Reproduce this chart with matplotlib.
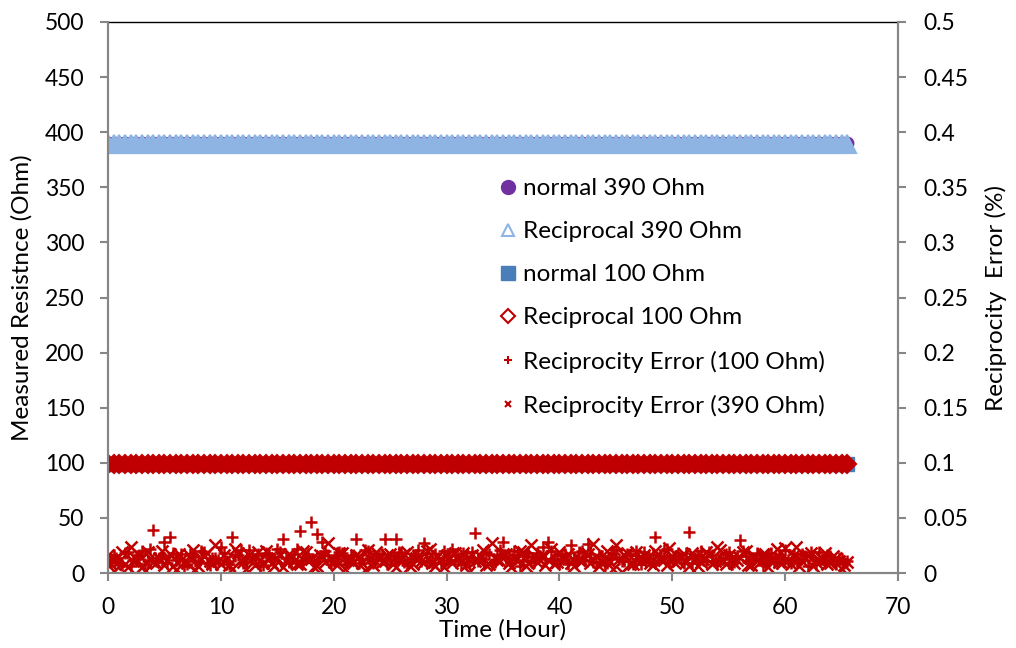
import matplotlib
matplotlib.use("Agg")
import matplotlib.pyplot as plt
from matplotlib.lines import Line2D

plt.rcParams['font.family'] = ['Lato', 'DejaVu Sans']

# ---------------- data ----------------
time_h = [0.0, 0.5, 1.0, 1.5, 2.0, 2.5, 3.0, 3.5, 4.0, 4.5,
          5.0, 5.5, 6.0, 6.5, 7.0, 7.5, 8.0, 8.5, 9.0, 9.5,
          10.0, 10.5, 11.0, 11.5, 12.0, 12.5, 13.0, 13.5, 14.0, 14.5,
          15.0, 15.5, 16.0, 16.5, 17.0, 17.5, 18.0, 18.5, 19.0, 19.5,
          20.0, 20.5, 21.0, 21.5, 22.0, 22.5, 23.0, 23.5, 24.0, 24.5,
          25.0, 25.5, 26.0, 26.5, 27.0, 27.5, 28.0, 28.5, 29.0, 29.5,
          30.0, 30.5, 31.0, 31.5, 32.0, 32.5, 33.0, 33.5, 34.0, 34.5,
          35.0, 35.5, 36.0, 36.5, 37.0, 37.5, 38.0, 38.5, 39.0, 39.5,
          40.0, 40.5, 41.0, 41.5, 42.0, 42.5, 43.0, 43.5, 44.0, 44.5,
          45.0, 45.5, 46.0, 46.5, 47.0, 47.5, 48.0, 48.5, 49.0, 49.5,
          50.0, 50.5, 51.0, 51.5, 52.0, 52.5, 53.0, 53.5, 54.0, 54.5,
          55.0, 55.5, 56.0, 56.5, 57.0, 57.5, 58.0, 58.5, 59.0, 59.5,
          60.0, 60.5, 61.0, 61.5, 62.0, 62.5, 63.0, 63.5, 64.0, 64.5,
          65.0, 65.5]

time_mid = [0.25, 0.75, 1.25, 1.75, 2.25, 2.75, 3.25, 3.75, 4.25, 4.75,
            5.25, 5.75, 6.25, 6.75, 7.25, 7.75, 8.25, 8.75, 9.25, 9.75,
            10.25, 10.75, 11.25, 11.75, 12.25, 12.75, 13.25, 13.75, 14.25, 14.75,
            15.25, 15.75, 16.25, 16.75, 17.25, 17.75, 18.25, 18.75, 19.25, 19.75,
            20.25, 20.75, 21.25, 21.75, 22.25, 22.75, 23.25, 23.75, 24.25, 24.75,
            25.25, 25.75, 26.25, 26.75, 27.25, 27.75, 28.25, 28.75, 29.25, 29.75,
            30.25, 30.75, 31.25, 31.75, 32.25, 32.75, 33.25, 33.75, 34.25, 34.75,
            35.25, 35.75, 36.25, 36.75, 37.25, 37.75, 38.25, 38.75, 39.25, 39.75,
            40.25, 40.75, 41.25, 41.75, 42.25, 42.75, 43.25, 43.75, 44.25, 44.75,
            45.25, 45.75, 46.25, 46.75, 47.25, 47.75, 48.25, 48.75, 49.25, 49.75,
            50.25, 50.75, 51.25, 51.75, 52.25, 52.75, 53.25, 53.75, 54.25, 54.75,
            55.25, 55.75, 56.25, 56.75, 57.25, 57.75, 58.25, 58.75, 59.25, 59.75,
            60.25, 60.75, 61.25, 61.75, 62.25, 62.75, 63.25, 63.75, 64.25, 64.75,
            65.25]

normal_390 = [390.0] * len(time_h)
recip_390 = [389.0] * len(time_h)
normal_100 = [99.0] * len(time_h)
recip_100 = [99.0] * len(time_h)

# reciprocity error (%), right axis
err_100 = [0.012, 0.016, 0.009, 0.018, 0.006, 0.013, 0.020, 0.011, 0.039, 0.014,
           0.028, 0.033, 0.012, 0.017, 0.008, 0.015, 0.010, 0.019, 0.007, 0.014,
           0.024, 0.011, 0.033, 0.016, 0.009, 0.021, 0.013, 0.006, 0.018, 0.012,
           0.022, 0.031, 0.010, 0.017, 0.038, 0.014, 0.046, 0.035, 0.028, 0.016,
           0.011, 0.019, 0.008, 0.015, 0.031, 0.013, 0.020, 0.009, 0.016, 0.031,
           0.012, 0.031, 0.018, 0.007, 0.014, 0.021, 0.027, 0.011, 0.017, 0.009,
           0.015, 0.022, 0.012, 0.018, 0.010, 0.036, 0.014, 0.019, 0.008, 0.016,
           0.028, 0.012, 0.020, 0.006, 0.015, 0.011, 0.018, 0.024, 0.028, 0.013,
           0.009, 0.017, 0.025, 0.012, 0.020, 0.026, 0.010, 0.016, 0.007, 0.014,
           0.021, 0.011, 0.017, 0.008, 0.013, 0.019, 0.010, 0.033, 0.015, 0.022,
           0.012, 0.018, 0.009, 0.037, 0.014, 0.020, 0.011, 0.016, 0.008, 0.013,
           0.019, 0.010, 0.030, 0.015, 0.012, 0.018, 0.007, 0.014, 0.010, 0.016,
           0.021, 0.009, 0.013, 0.017, 0.006, 0.012, 0.019, 0.010, 0.015, 0.008,
           0.013, 0.011]

err_100_mid = [0.010, 0.014, 0.007, 0.019, 0.012, 0.016, 0.008, 0.022, 0.011, 0.015,
               0.009, 0.018, 0.013, 0.006, 0.017, 0.011, 0.020, 0.009, 0.014, 0.012,
               0.018, 0.008, 0.015, 0.021, 0.010, 0.013, 0.017, 0.007, 0.016, 0.011,
               0.019, 0.014, 0.009, 0.022, 0.012, 0.017, 0.010, 0.015, 0.020, 0.008,
               0.013, 0.018, 0.011, 0.016, 0.009, 0.021, 0.014, 0.012, 0.017, 0.008,
               0.015, 0.019, 0.010, 0.013, 0.016, 0.011, 0.018, 0.009, 0.014, 0.020,
               0.012, 0.016, 0.008, 0.015, 0.019, 0.011, 0.013, 0.017, 0.010, 0.021,
               0.014, 0.009, 0.016, 0.012, 0.018, 0.010, 0.015, 0.013, 0.020, 0.011,
               0.016, 0.008, 0.014, 0.019, 0.012, 0.017, 0.010, 0.015, 0.009, 0.018,
               0.013, 0.011, 0.016, 0.020, 0.008, 0.014, 0.017, 0.012, 0.021, 0.010,
               0.015, 0.013, 0.018, 0.009, 0.016, 0.012, 0.019, 0.011, 0.014, 0.017,
               0.008, 0.015, 0.020, 0.010, 0.013, 0.016, 0.011, 0.018, 0.009, 0.014,
               0.012, 0.017, 0.010, 0.015, 0.019, 0.008, 0.013, 0.016, 0.011, 0.014,
               0.009]

err_390 = [0.016, 0.002, 0.011, 0.008, 0.024, 0.013, 0.005, 0.019, 0.010, 0.014,
           0.007, 0.017, 0.003, 0.012, 0.009, 0.021, 0.006, 0.015, 0.011, 0.025,
           0.008, 0.013, 0.004, 0.018, 0.010, 0.016, 0.007, 0.012, 0.020, 0.009,
           0.014, 0.005, 0.017, 0.011, 0.008, 0.019, 0.013, 0.006, 0.015, 0.027,
           0.010, 0.018, 0.004, 0.012, 0.016, 0.009, 0.021, 0.007, 0.014, 0.011,
           0.017, 0.005, 0.013, 0.019, 0.008, 0.015, 0.010, 0.022, 0.006, 0.012,
           0.016, 0.009, 0.013, 0.018, 0.001, 0.011, 0.015, 0.007, 0.027, 0.012,
           0.017, 0.009, 0.014, 0.020, 0.006, 0.025, 0.010, 0.016, 0.012, 0.008,
           0.019, 0.013, 0.009, 0.015, 0.011, 0.017, 0.026, 0.006, 0.014, 0.010,
           0.025, 0.001, 0.018, 0.008, 0.013, 0.016, 0.009, 0.020, 0.012, 0.007,
           0.015, 0.011, 0.017, 0.006, 0.013, 0.010, 0.019, 0.008, 0.024, 0.012,
           0.016, 0.009, 0.014, 0.020, 0.007, 0.011, 0.017, 0.005, 0.013, 0.010,
           0.023, 0.008, 0.024, 0.011, 0.015, 0.006, 0.012, 0.018, 0.009, 0.014,
           0.004, 0.010]

err_390_mid = [0.008, 0.013, 0.019, 0.005, 0.011, 0.016, 0.002, 0.014, 0.009, 0.020,
               0.012, 0.006, 0.017, 0.010, 0.015, 0.003, 0.013, 0.018, 0.008, 0.011,
               0.016, 0.007, 0.022, 0.012, 0.004, 0.014, 0.019, 0.009, 0.013, 0.006,
               0.017, 0.011, 0.015, 0.008, 0.020, 0.012, 0.005, 0.016, 0.010, 0.014,
               0.007, 0.018, 0.012, 0.009, 0.015, 0.003, 0.013, 0.019, 0.010, 0.016,
               0.008, 0.012, 0.017, 0.006, 0.014, 0.011, 0.020, 0.009, 0.015, 0.005,
               0.013, 0.018, 0.010, 0.007, 0.016, 0.012, 0.021, 0.008, 0.014, 0.011,
               0.017, 0.005, 0.013, 0.019, 0.009, 0.015, 0.012, 0.007, 0.022, 0.010,
               0.014, 0.017, 0.006, 0.012, 0.018, 0.009, 0.015, 0.011, 0.020, 0.004,
               0.013, 0.016, 0.008, 0.019, 0.011, 0.014, 0.007, 0.017, 0.012, 0.023,
               0.009, 0.015, 0.010, 0.018, 0.006, 0.013, 0.016, 0.011, 0.021, 0.008,
               0.014, 0.012, 0.019, 0.007, 0.015, 0.010, 0.017, 0.013, 0.022, 0.009,
               0.012, 0.016, 0.006, 0.014, 0.018, 0.010, 0.013, 0.008, 0.015, 0.011,
               0.007]

labels = ["normal 390 Ohm", "Reciprocal 390 Ohm", "normal 100 Ohm",
          "Reciprocal 100 Ohm", "Reciprocity Error (100 Ohm)", "Reciprocity Error (390 Ohm)"]

left_ticks = [0, 50, 100, 150, 200, 250, 300, 350, 400, 450, 500]
right_ticks = [0, 0.05, 0.1, 0.15, 0.2, 0.25, 0.3, 0.35, 0.4, 0.45, 0.5]
right_ticklabels = ["0", "0.05", "0.1", "0.15", "0.2", "0.25", "0.3", "0.35", "0.4", "0.45", "0.5"]
x_ticks = [0, 10, 20, 30, 40, 50, 60, 70]

# ---------------- style ----------------
PURPLE = "#7030A0"
LBLUE = "#8EB4E3"
BLUE = "#4A7EBB"
RED = "#C00000"
GRAY = "#868686"
FS_TICK = 16.5
FS_TEXT = 17.5

fig = plt.figure(figsize=(10.16, 6.48), dpi=100)
ax = fig.add_axes([108/1016, 1-573/648, 790/1016, 551/648])
ax2 = ax.twinx()

ax.plot(time_h, normal_390, ls='none', marker='o', ms=9, color=PURPLE, mec=PURPLE)
ax.plot(time_h, recip_390, ls='none', marker='^', ms=13, mfc=LBLUE, mec=LBLUE, mew=1.5)
ax.plot(time_h, normal_100, ls='none', marker='s', ms=10, color=BLUE, mec=BLUE)
ax.plot(time_h, recip_100, ls='none', marker='D', ms=9, mfc=RED, mec=RED, mew=1.5)

ax2.plot(time_h + time_mid, err_100 + err_100_mid, ls='none', marker='+', ms=9, mew=1.8, color=RED)
ax2.plot(time_h + time_mid, err_390 + err_390_mid, ls='none', marker='x', ms=8, mew=1.8, color=RED)

ax.set_xlim(0, 70)
ax.set_ylim(0, 500)
ax2.set_ylim(0, 0.5)
ax.set_xticks(x_ticks)
ax.set_yticks(left_ticks)
ax2.set_yticks(right_ticks)
ax2.set_yticklabels(right_ticklabels)

for a in (ax, ax2):
    a.spines['top'].set_visible(False)
    for s in ('left', 'right', 'bottom'):
        a.spines[s].set_color(GRAY)
        a.spines[s].set_linewidth(1.5)
    a.tick_params(colors=GRAY, labelcolor='black', labelsize=FS_TICK, width=1.5, length=6)
ax.spines['top'].set_visible(True)
ax.spines['top'].set_color('black')
ax.spines['top'].set_linewidth(1.0)
ax.tick_params(axis='x', pad=11)
ax.tick_params(axis='y', pad=11)
ax2.tick_params(axis='y', pad=12)

ax.set_xlabel("Time (Hour)", fontsize=FS_TEXT)
ax.xaxis.set_label_coords(0.5, -0.083)
ax.set_ylabel("Measured Resistnce (Ohm)", fontsize=FS_TEXT)
ax.yaxis.set_label_coords(-0.095, 0.5)
ax2.set_ylabel("Reciprocity  Error (%)", fontsize=FS_TEXT)
ax2.yaxis.set_label_coords(1.110, 0.5)

handles = [
    Line2D([], [], ls='none', marker='o', ms=10, color=PURPLE),
    Line2D([], [], ls='none', marker='^', ms=9, mfc='white', mec=LBLUE, mew=1.5),
    Line2D([], [], ls='none', marker='s', ms=10, color=BLUE),
    Line2D([], [], ls='none', marker='D', ms=7, mfc='white', mec=RED, mew=1.5),
    Line2D([], [], ls='none', marker='+', ms=6, mew=1.5, color=RED),
    Line2D([], [], ls='none', marker='x', ms=5, mew=1.5, color=RED),
]
fig.legend(handles, labels, loc='upper left', bbox_to_anchor=(501/1016, 1-178/648),
           frameon=False, fontsize=FS_TEXT, handlelength=0.6, handletextpad=0.3,
           labelspacing=0.91, borderpad=0, borderaxespad=0)

fig.savefig("out.png", dpi=100)
